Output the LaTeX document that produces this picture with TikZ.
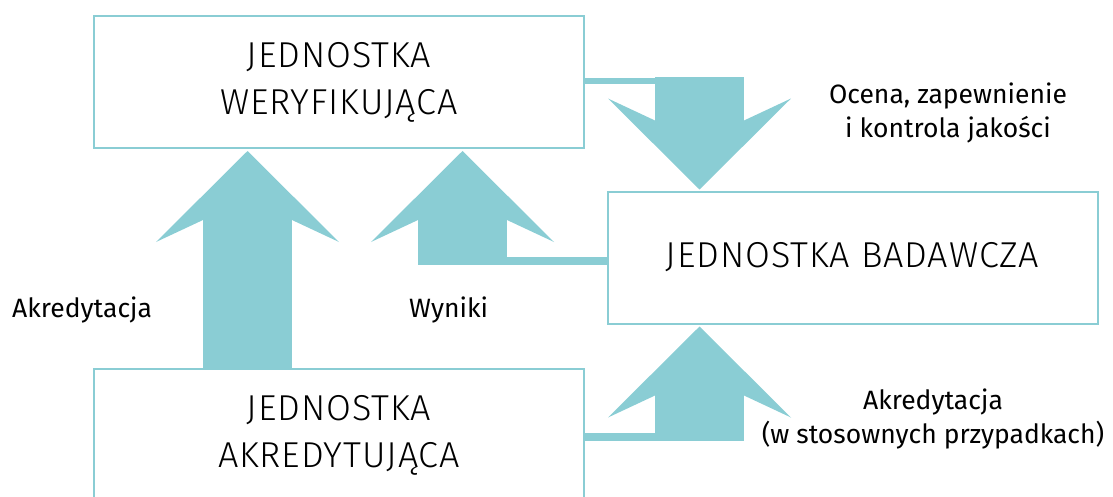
\documentclass[tikz,border=0pt]{standalone}
\usepackage{fontspec}
\setmainfont{Fira Sans}
\newfontfamily\boxfont{Fira Sans Light}[LetterSpace=2.5]
\usetikzlibrary{calc}

\definecolor{ecteal}{RGB}{138,205,212}

\tikzset{
  unit/.style={draw=ecteal, line width=2pt, minimum width=490pt, minimum height=132pt,
    align=center, font=\boxfont\fontsize{36}{47}\selectfont},
  flow/.style={fill=ecteal},
  lbl/.style={font=\fontsize{26.5}{34}\selectfont, align=center, inner sep=0pt}
}

% fat arrow head, tip at #1
\newcommand{\arrhead}[2]{%
  \fill[flow, shift={(#1)}, rotate=#2] (0,0) -- (91.5,91) -- (44.5,69) -- (-44.5,69) -- (-91.5,91) -- cycle;}

\begin{document}
\begin{tikzpicture}[x=1pt, y=-1pt]
    \useasboundingbox (0,0) rectangle (1113,496);

    \node[unit] (wer) at (339,82) {JEDNOSTKA\\WERYFIKUJĄCA};
    \node[unit] (bad) at (852.5,257.5) {JEDNOSTKA BADAWCZA};
    \node[unit] (akr) at (339,435) {JEDNOSTKA\\AKREDYTUJĄCA};

    \coordinate (t1) at ($(wer.south)+(-91.5,2)$);
    \coordinate (t2) at ($(wer.south)+(123.5,2)$);
    \coordinate (t3) at ($(bad.north west)+(93,-1)$);
    \coordinate (t4) at ($(bad.south west)+(93,2)$);

    % akredytacja
    \arrhead{t1}{0}
    \fill[flow] ($(t1)+(-44.5,68.5)$) rectangle ($(t1 |- akr.north)+(44.5,0)$);

    % wyniki
    \arrhead{t2}{0}
    \fill[flow] ($(t2)+(-44.5,68.5)$) rectangle ($(t2 |- bad.west)+(44.5,7.5)$);
    \fill[flow] ($(bad.west)+(0,-0.5)$) rectangle ($(t2 |- bad.west)+(44,7.5)$);

    % ocena
    \arrhead{t3}{180}
    \fill[flow] ($(t3)+(-44.5,-68.5)$) rectangle ($(t3)+(44.5,-113)$);
    \fill[flow] ($(wer.east)+(0,-4)$) rectangle ($(t3 |- wer.east)+(44.5,2)$);

    % akredytacja badawczej
    \arrhead{t4}{0}
    \fill[flow] ($(t4)+(-44.5,68.5)$) rectangle ($(t4)+(44.5,114)$);
    \fill[flow] ($(akr.east)+(0,-2)$) rectangle ($(t4)+(-44,114)$);

    \node[lbl, anchor=base west] (lakr) at (12,317) {Akredytacja};
    \node[lbl, anchor=base west] (lwyn) at (409,317) {Wyniki};
    \node[lbl] (locena) at (948,113) {Ocena, zapewnienie\\i kontrola jakości};
    \node[lbl] (lakrb) at (933,419) {Akredytacja\\(w stosownych przypadkach)};
\end{tikzpicture}
\end{document}
